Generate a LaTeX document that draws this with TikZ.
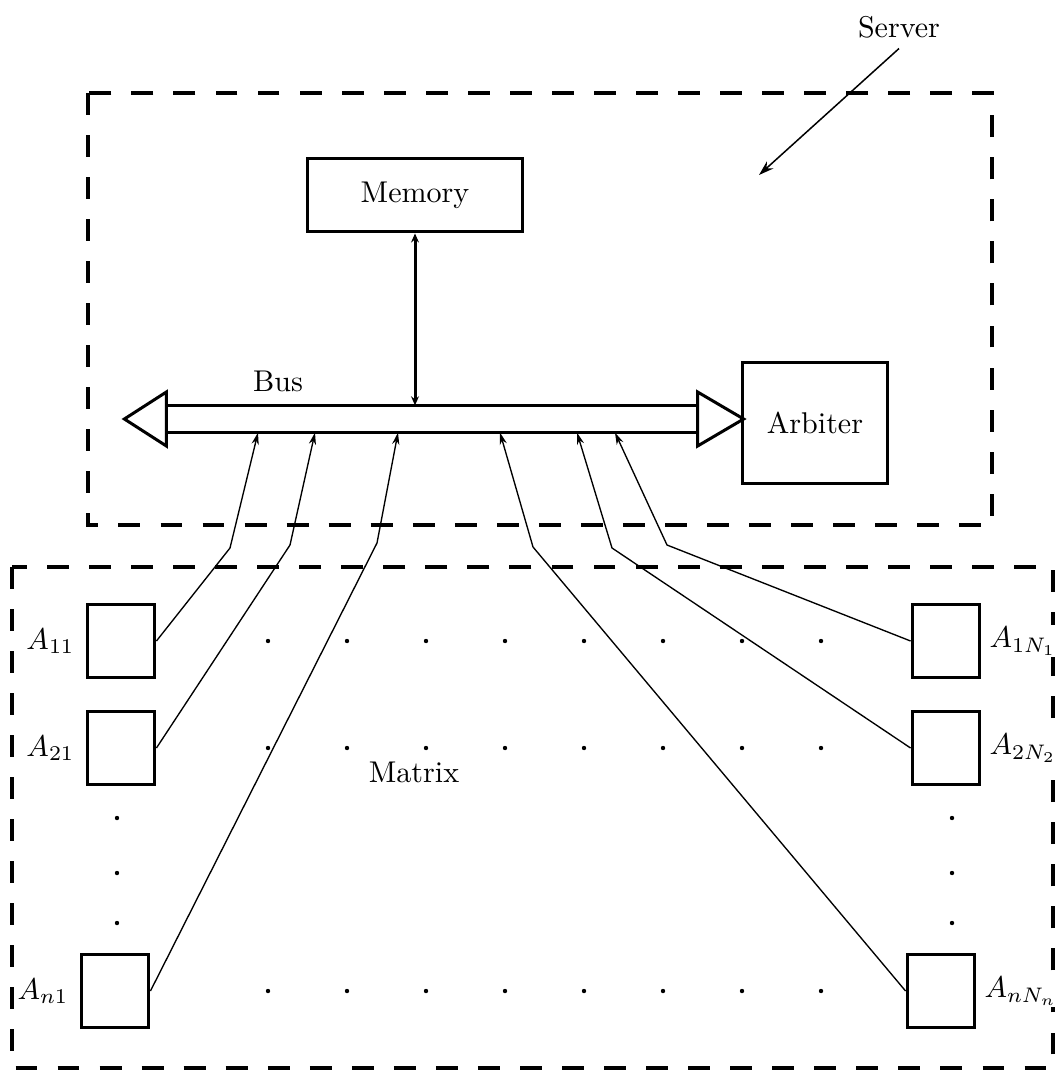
\documentclass[tikz,border=0pt]{standalone}
\usepackage{amsmath}
\usepackage{tikz}
\usetikzlibrary{positioning,arrows.meta,calc}

\begin{document}
\begin{tikzpicture}[
  x=0.333pt, y=-0.333pt,
  frame/.style={draw, line width=1.3pt, dash pattern=on 7.3pt off 6.7pt},
  unit/.style={rectangle, draw, line width=1pt, inner sep=0pt, align=center},
  cell/.style={unit, minimum width=22.6pt, minimum height=24.3pt},
  rail/.style={line width=1pt, line join=miter},
  link/.style={line width=0.45pt, -{Stealth[length=4pt, width=2.4pt]}},
  duplex/.style={line width=1pt, {Stealth[length=3pt, width=2.6pt]}-{Stealth[length=3pt, width=2.6pt]}},
  pointer/.style={line width=0.5pt, -{Stealth[length=5pt, width=3.2pt]}},
  tag/.style={inner sep=0.5pt, fill=white},
]

% ── Page size (reference proportions) ──
\useasboundingbox (0,0) rectangle (1056,1070);

% ── Row Y-coordinates of the matrix ──
\def\yRowA{641}
\def\yRowB{748}
\def\yRowN{991}

% ── Dashed frames ──
\draw[frame] (88,93) rectangle (992,525);
\draw[frame] (12,567) rectangle (1053,1068);

% ── Server ──
\node (srv) at (899,27) {Server};
\coordinate (srvtip) at (759,175);
\draw[pointer] (srv.south) -- (srvtip);

\node[unit, minimum width=71.3pt, minimum height=24.6pt] (mem) at (415,195) {Memory};
\node[unit, minimum width=48.3pt, minimum height=40.6pt] (arb) at (815,423) {Arbiter};

% bus = two rails + open triangles at both ends
\node[inner sep=0pt, minimum width=176.5pt, minimum height=8.66pt] (bus) at (432,419) {};
\draw[rail] (bus.north west) -- (bus.north east);
\draw[rail] (bus.south west) -- (bus.south east);
\draw[rail, fill=white] ($(bus.west)+(0,-27)$) -- ++(-42,27) -- ++(42,27) -- cycle;
\draw[rail, fill=white] ($(bus.east)+(0,-27)$) -- ++(46,27) -- ++(-46,27) -- cycle;
\node (buslbl) at (278,381) {Bus};

\draw[duplex] (mem.south) -- (mem.south |- bus.north);

% ── Matrix cells ──
\node[cell] (c11) at (121,\yRowA) {};
\node[cell] (c21) at (121,\yRowB) {};
\node[cell] (cn1) at (115,\yRowN) {};
\node[cell] (c1N) at (946,\yRowA) {};
\node[cell] (c2N) at (946,\yRowB) {};
\node[cell] (cnN) at (941,\yRowN) {};

\node[tag, left=3pt of c11]  {$A_{11}$};
\node[tag, left=3pt of c21]  {$A_{21}$};
\node[tag, left=3pt of cn1]  {$A_{n1}$};
\node[tag, right=2pt of c1N] {$A_{1N_1}$};
\node[tag, right=2pt of c2N] {$A_{2N_2}$};
\node[tag, right=2pt of cnN] {$A_{nN_n}$};

\node (mtx) at (414,772) {Matrix};

% dots between the cells
\foreach \row in {\yRowA, \yRowB, \yRowN} {
  \foreach \k in {0,...,7} {
    \fill (268+79*\k, \row) circle (2.2);
  }
}
\foreach \y in {818, 873, 923} {
  \fill (117,\y) circle (2.2);
  \fill (952,\y) circle (2.2);
}

% ── Links: cells → bus (bend where they leave the matrix) ──
\coordinate (k1) at (230,548);
\coordinate (k2) at (290,545);
\coordinate (k3) at (377,543);
\coordinate (k4) at (533,547);
\coordinate (k5) at (612,548);
\coordinate (k6) at (667,545);
\coordinate (t1) at (258,0);
\coordinate (t2) at (315,0);
\coordinate (t3) at (398,0);
\coordinate (t4) at (500,0);
\coordinate (t5) at (577,0);
\coordinate (t6) at (615,0);

\draw[link] (c11.east) -- (k1) -- (bus.south -| t1);
\draw[link] (c21.east) -- (k2) -- (bus.south -| t2);
\draw[link] (cn1.east) -- (k3) -- (bus.south -| t3);
\draw[link] (cnN.west) -- (k4) -- (bus.south -| t4);
\draw[link] (c2N.west) -- (k5) -- (bus.south -| t5);
\draw[link] (c1N.west) -- (k6) -- (bus.south -| t6);

\end{tikzpicture}
\end{document}
